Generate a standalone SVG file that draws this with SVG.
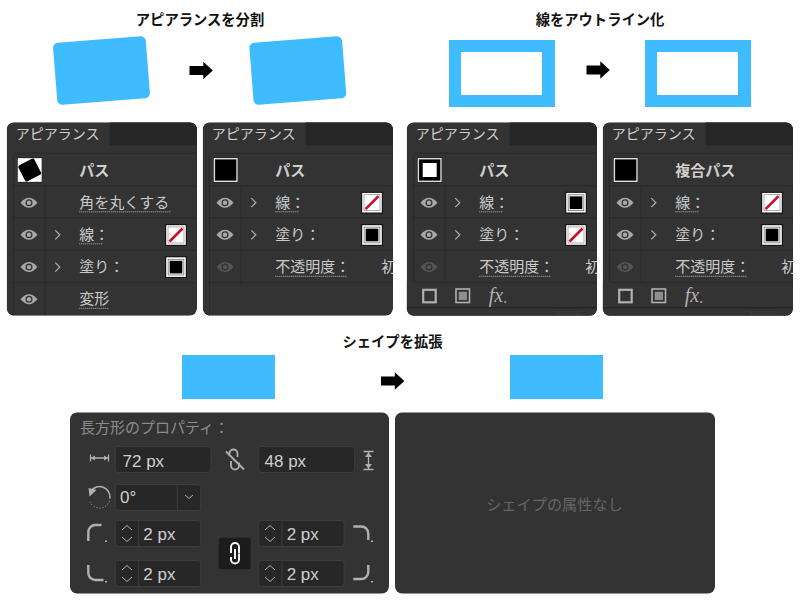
<svg xmlns="http://www.w3.org/2000/svg" width="800" height="606" viewBox="0 0 800 606">
<style>
text{font-family:"Noto Sans CJK JP","Noto Sans",sans-serif}
.title{font-size:14.3px;font-weight:700;fill:#111;text-anchor:middle}
.blue{fill:#3fbbff}
.panel{fill:#333}
.tabbar{fill:#272727}
.tab{font-size:14px;fill:#cfcfcf}
.head{font-size:15px;font-weight:700;fill:#cfcfcf}
.row{font-size:15px;fill:#cacaca}
.sep{stroke:#2a2a2a;stroke-width:1;fill:none}
.dots{stroke:#b8b8b8;stroke-width:1;stroke-dasharray:1 1;fill:none}
.chev{stroke:#b0b0b0;stroke-width:1.200;fill:none}
.ico{stroke:#b0b0b0;fill:none}
.field{fill:#272727;stroke:#3d3d3d;stroke-width:1}
.val{font-family:"Liberation Sans",Arial,sans-serif;font-size:17px;fill:#cfcfcf}
.div{stroke:#3d3d3d;stroke-width:1}
.lbl{font-size:15px;fill:#8c8c8c}
</style>
<defs>
<path id="arrow" d="M0-4.500H13.800V-8.800L23.300 0 13.800 8.800V4.500H0Z" fill="#000"/>
<rect id="tilted" x="-46.500" y="-31" width="93" height="62" rx="5" class="blue" transform="rotate(-4.500)"/>
<g id="eye"><path d="M-8.500 0Q0-10 8.500 0Q0 10-8.500 0Z" fill="currentColor"/><circle r="3.500" fill="#333"/><circle r="2.200" fill="currentColor"/></g>
<path id="chev" class="chev" d="M-2-4.500L2.500 0-2 4.500"/>
<g id="swNone"><rect x="-10.900" y="-10.900" width="21.800" height="21.800" fill="#111"/><rect x="-9.800" y="-9.800" width="19.600" height="19.600" fill="#fff"/><rect x="-8" y="-8" width="16" height="16" fill="#fff" stroke="#777" stroke-width=".6"/><path d="M-6.500 6.500L6.500-6.500" stroke="#c8102e" stroke-width="2.600"/></g>
<g id="swBlack"><rect x="-10.900" y="-10.900" width="21.800" height="21.800" fill="#111"/><rect x="-9.800" y="-9.800" width="19.600" height="19.600" fill="#fff"/><rect x="-8.200" y="-8.200" width="16.400" height="16.400" fill="#555"/><rect x="-7.600" y="-7.600" width="15.200" height="15.200" fill="#eee"/><rect x="-6.300" y="-6.300" width="12.600" height="12.600" fill="#000"/></g>
<g id="hdr"><rect x="-12.300" y="-12.300" width="24.600" height="24.600" fill="#111"/><rect x="-11.300" y="-11.300" width="22.600" height="22.600" fill="#000" stroke="#ddd" stroke-width="1.400"/></g>
<g id="base">
<rect class="panel" width="190.300" height="193.400" rx="7"/>
<path class="tabbar" d="M103 0H183.300A7 7 0 0 1 190.300 7V23H103Z"/>
<text class="tab" x="9" y="17">アピアランス</text>
<path class="sep" d="M190.300 31H10.700A4 4 0 0 0 6.700 35V193.400"/>
<path class="sep" d="M6.700 63.500H190.300M6.700 95.500H190.300M6.700 128H190.300M38.300 63.500V160.400"/>
</g>
<g id="foot">
<rect x="16.500" y="167.500" width="12.500" height="12.500" class="ico" stroke-width="2.200"/>
<rect x="49.300" y="166.700" width="13.500" height="13.500" class="ico" stroke-width="1.600"/><rect x="52" y="169.500" width="8.200" height="8.200" fill="#8f8f8f"/>
<text x="82" y="179.400" font-size="20" font-style="italic" fill="#b0b0b0" style="font-family:'Liberation Serif',serif">fx</text><rect x="97.500" y="179" width="2" height="1.500" fill="#b0b0b0"/>
<path d="M0 185.500H190.300" stroke="#262626" stroke-width="1.500"/>
<path d="M148 189.500h25M148 191h25M148 192.500h25" stroke="#444" stroke-dasharray="1 1"/>
</g>
<clipPath id="pc"><rect width="190.300" height="193.400" rx="7"/></clipPath>
</defs>

<g id="title-appearance"><text class="title" x="200" y="25">アピアランスを分割</text></g>
<g id="title-outline"><text class="title" x="600" y="25">線をアウトライン化</text></g>
<g id="title-expand"><text class="title" x="392.500" y="347">シェイプを拡張</text></g>

<g id="shape-tilted-before"><use href="#tilted" x="101.500" y="70.500"/></g>
<g id="shape-tilted-after"><use href="#tilted" x="297.800" y="70.500"/></g>
<g id="shape-frame-before"><path class="blue" fill-rule="evenodd" d="M449 40H555V107H449ZM461 52V95H542V52Z"/></g>
<g id="shape-frame-after"><path class="blue" fill-rule="evenodd" d="M645 40H751V107H645ZM657 52V95H738V52Z"/></g>
<g id="shape-rect-before"><rect class="blue" x="182" y="355" width="93" height="44"/></g>
<g id="shape-rect-after"><rect class="blue" x="510" y="355" width="93" height="44"/></g>

<g id="connectors">
<use href="#arrow" x="189.500" y="70.500"/>
<use href="#arrow" x="586.500" y="70"/>
<use href="#arrow" x="381" y="381"/>
</g>

<g id="panel-1" transform="translate(6.700 122.300)" clip-path="url(#pc)">
<use href="#base"/>
<path class="sep" d="M6.700 160.400H190.300M38.300 160.400V193.400"/>
<use href="#hdr" x="23" y="47.700"/>
<rect x="11.500" y="36.700" width="23" height="22" fill="#fff"/><rect x="14" y="38.700" width="18" height="18" rx="2" transform="rotate(-27 23 47.700)" fill="#000"/>
<text class="head" x="72.600" y="54">パス</text>
<use href="#eye" x="22.300" y="80.400" color="#a8a8a8"/><text class="row" x="72.600" y="85.500">角を丸くする</text><path class="dots" d="M72.600 89.500h91"/>
<use href="#eye" x="22.300" y="112.500" color="#a8a8a8"/><use href="#chev" x="50.600" y="112.500"/><text class="row" x="72.600" y="117.500">線：</text><path class="dots" d="M72.600 121.500h24"/><use href="#swNone" x="169.300" y="112.700"/>
<use href="#eye" x="22.300" y="144.800" color="#a8a8a8"/><use href="#chev" x="50.600" y="144.800"/><text class="row" x="72.600" y="150">塗り：</text><use href="#swBlack" x="169.300" y="144.800"/>
<use href="#eye" x="22.300" y="177" color="#a8a8a8"/><text class="row" x="72.600" y="182">変形</text><path class="dots" d="M72.600 186h30"/>
</g>

<g id="panel-2" transform="translate(202.700 122.300)" clip-path="url(#pc)">
<use href="#base"/>
<path class="sep" d="M6.700 160.400H190.300"/>
<use href="#hdr" x="23" y="47.700"/>
<text class="head" x="72.600" y="54">パス</text>
<use href="#eye" x="22.300" y="80.400" color="#a8a8a8"/><use href="#chev" x="50.600" y="80.400"/><text class="row" x="72.600" y="85.500">線：</text><path class="dots" d="M72.600 89.500h24"/><use href="#swNone" x="169.300" y="80.400"/>
<use href="#eye" x="22.300" y="112.500" color="#a8a8a8"/><use href="#chev" x="50.600" y="112.500"/><text class="row" x="72.600" y="117.500">塗り：</text><use href="#swBlack" x="169.300" y="112.700"/>
<use href="#eye" x="22.300" y="144.800" color="#555"/><text class="row" x="72.600" y="150">不透明度：</text><path class="dots" d="M72.600 154h71"/><text class="row" x="178.500" y="150">初</text>
</g>

<g id="panel-3" transform="translate(406.700 122.300)" clip-path="url(#pc)">
<use href="#base"/>
<rect x="0" y="159" width="190.300" height="35" class="panel"/>
<path class="sep" d="M6.700 128V156.400A4 4 0 0 0 10.700 160.400H190.300"/>
<use href="#foot"/>
<use href="#hdr" x="23" y="47.700"/>
<rect x="16" y="40.700" width="14" height="14" fill="#fff"/>
<text class="head" x="72.600" y="54">パス</text>
<use href="#eye" x="22.300" y="80.400" color="#a8a8a8"/><use href="#chev" x="50.600" y="80.400"/><text class="row" x="72.600" y="85.500">線：</text><path class="dots" d="M72.600 89.500h24"/><use href="#swBlack" x="169.300" y="80.400"/>
<use href="#eye" x="22.300" y="112.500" color="#a8a8a8"/><use href="#chev" x="50.600" y="112.500"/><text class="row" x="72.600" y="117.500">塗り：</text><use href="#swNone" x="169.300" y="112.700"/>
<use href="#eye" x="22.300" y="144.800" color="#555"/><text class="row" x="72.600" y="150">不透明度：</text><path class="dots" d="M72.600 154h71"/><text class="row" x="178.500" y="150">初</text>
</g>

<g id="panel-4" transform="translate(602.700 122.300)" clip-path="url(#pc)">
<use href="#base"/>
<rect x="0" y="159" width="190.300" height="35" class="panel"/>
<path class="sep" d="M6.700 128V156.400A4 4 0 0 0 10.700 160.400H190.300"/>
<use href="#foot"/>
<use href="#hdr" x="23" y="47.700"/>
<text class="head" x="72.600" y="54">複合パス</text>
<use href="#eye" x="22.300" y="80.400" color="#a8a8a8"/><use href="#chev" x="50.600" y="80.400"/><text class="row" x="72.600" y="85.500">線：</text><path class="dots" d="M72.600 89.500h24"/><use href="#swNone" x="169.300" y="80.400"/>
<use href="#eye" x="22.300" y="112.500" color="#a8a8a8"/><use href="#chev" x="50.600" y="112.500"/><text class="row" x="72.600" y="117.500">塗り：</text><use href="#swBlack" x="169.300" y="112.700"/>
<use href="#eye" x="22.300" y="144.800" color="#555"/><text class="row" x="72.600" y="150">不透明度：</text><path class="dots" d="M72.600 154h71"/><text class="row" x="178.500" y="150">初</text>
</g>

<g id="panel-properties">
<rect class="panel" x="70" y="412.500" width="319" height="181" rx="7"/>
<text class="lbl" x="80" y="433">長方形のプロパティ：</text>
<path class="ico" stroke-width="1.300" d="M90.500 454.500V461.500M108.500 454.500V461.500M91 458H108"/><path d="M91 458l4-2.500v5zM108 458l-4-2.500v5z" fill="#b0b0b0"/>
<rect class="field" x="115.300" y="446.500" width="95.700" height="26" rx="3"/><text class="val" x="122.500" y="466.500">72 px</text>
<path class="ico" stroke-width="1.800" d="M229.500 456v-2.500a4 4 0 0 1 8 0v3.500M231 461v4.500a4 4 0 0 0 8 0v-3M226 451.500L244 469.500"/>
<rect class="field" x="258.700" y="446.500" width="96" height="26" rx="3"/><text class="val" x="264.500" y="466.500">48 px</text>
<path class="ico" stroke-width="1.300" d="M363.500 451.500H373.500M363.500 469.500H373.500M368.500 452V469"/><path d="M365 457l3.500-4.500 3.500 4.500zM365 464l3.500 4.500 3.500-4.500z" fill="#b0b0b0"/>
<path class="ico" stroke-width="1.500" d="M91 491A10.500 10.500 0 0 1 110 498"/><path class="ico" stroke-width="1" stroke-dasharray="1 2" d="M110 498A10.500 10.500 0 0 1 90 502"/><path d="M88.500 488L96.500 490 89.500 496.500Z" fill="#b0b0b0"/>
<rect class="field" x="115.300" y="484.500" width="85.400" height="26" rx="3"/><path class="div" d="M177.300 484.500V510.500"/><text class="val" x="120" y="503">0°</text><path class="ico" d="M185 495l4 3.500 4-3.500"/>
<path class="ico" stroke-width="2.400" d="M88.300 541V532A7 7 0 0 1 95.300 525H101.500"/><rect x="105" y="540.500" width="2" height="1.500" fill="#b0b0b0"/>
<rect class="field" x="115.300" y="520.500" width="85.400" height="26" rx="3"/><path class="div" d="M138.700 520.500V546.500"/><path class="ico" d="M122 530l5-4.500 5 4.500M122 537l5 4.500 5-4.500"/><text class="val" x="143.300" y="540">2 px</text>
<path class="ico" stroke-width="2.400" d="M88.300 565V573A7 7 0 0 0 95.300 580H103.500"/><rect x="105" y="581" width="2" height="1.500" fill="#b0b0b0"/>
<rect class="field" x="115.300" y="560.500" width="85.400" height="26" rx="3"/><path class="div" d="M138.700 560.500V586.500"/><path class="ico" d="M122 570l5-4.500 5 4.500M122 577l5 4.500 5-4.500"/><text class="val" x="143.300" y="580">2 px</text>
<rect x="218.700" y="537.700" width="32" height="31.600" rx="3" fill="#1c1c1c"/>
<path stroke="#fff" stroke-width="1.900" fill="none" d="M231 553v-6a4 4 0 0 1 8 0v6M231 557v2.500a4 4 0 0 0 8 0v-6M235 549v10"/>
<rect class="field" x="258.700" y="520.500" width="85.400" height="26" rx="3"/><path class="div" d="M282 520.500V546.500"/><path class="ico" d="M265 530l5-4.500 5 4.500M265 537l5 4.500 5-4.500"/><text class="val" x="286.700" y="540">2 px</text>
<path class="ico" stroke-width="2.400" d="M353.300 526.500H361A7 7 0 0 1 368.300 533.500V540"/><rect x="371" y="540.500" width="2" height="1.500" fill="#b0b0b0"/>
<rect class="field" x="258.700" y="560.500" width="85.400" height="26" rx="3"/><path class="div" d="M282 560.500V586.500"/><path class="ico" d="M265 570l5-4.500 5 4.500M265 577l5 4.500 5-4.500"/><text class="val" x="286.700" y="580">2 px</text>
<path class="ico" stroke-width="2.400" d="M353.300 579H361A7 7 0 0 0 368.300 572V565"/><rect x="371" y="581" width="2" height="1.500" fill="#b0b0b0"/>
</g>
<g id="panel-empty">
<rect class="panel" x="395" y="412.500" width="320" height="181" rx="7"/>
<text x="554.500" y="510" font-size="15.200" fill="#666" text-anchor="middle">シェイプの属性なし</text>
</g>
</svg>
